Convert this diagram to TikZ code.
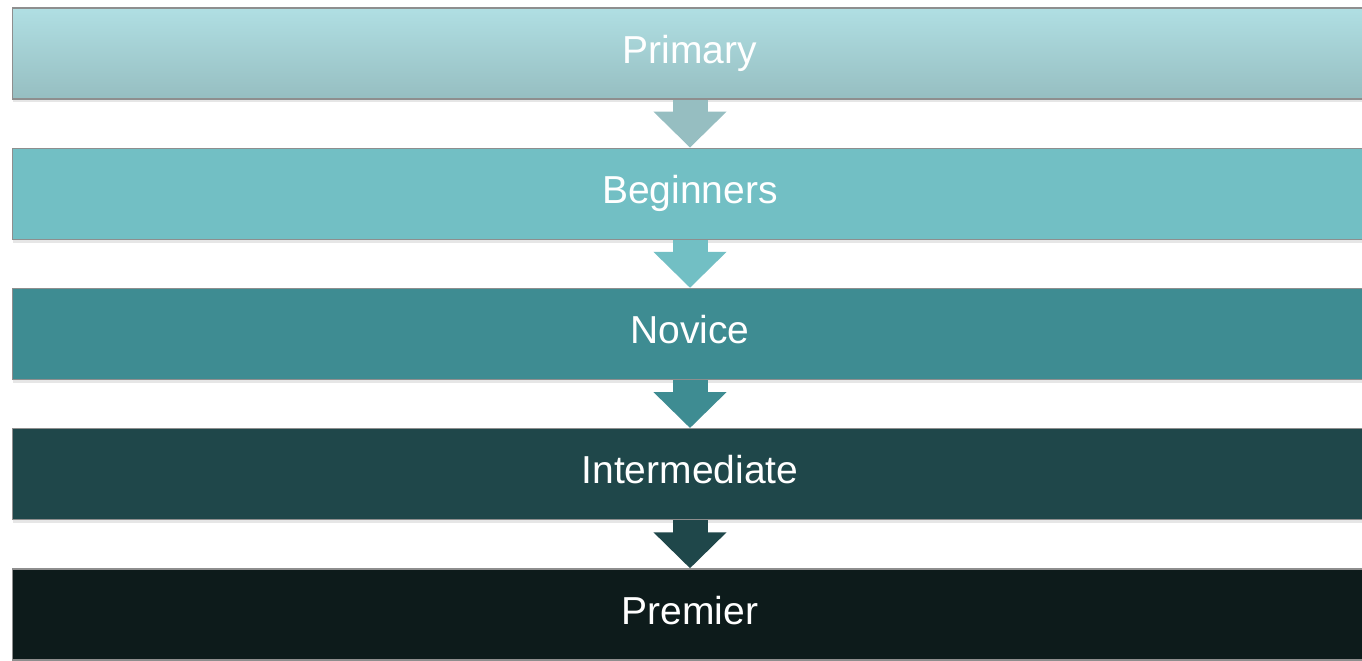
\documentclass[tikz,border=0pt]{standalone}
\usepackage{fontspec}
\setmainfont{Liberation Sans}
\usetikzlibrary{arrows.meta,shadows,positioning}
\definecolor{primtop}{HTML}{B0DFE3}
\definecolor{primbot}{HTML}{96BEC1}
\definecolor{begin}{HTML}{72BFC4}
\definecolor{novice}{HTML}{3E8C92}
\definecolor{inter}{HTML}{1F474A}
\definecolor{premier}{HTML}{0D1B1B}
\definecolor{edge}{HTML}{8E8E8E}
\begin{document}
\begin{tikzpicture}[x=0.02cm,y=-0.02cm,
    level/.style={draw=edge, line width=0.025cm, minimum width=27.12cm, minimum height=1.82cm,
      text=white, font=\fontsize{22.2}{26}\selectfont, text height=0.56cm, text depth=0.17cm,
      drop shadow={opacity=0.2, shadow xshift=0.02cm, shadow yshift=-0.07cm}},
    down/.style={line width=0.7cm, -{Triangle[width=1.42cm,length=0.72cm]}},
    node distance=0.96cm]
    \useasboundingbox (0,0) rectangle (1362,660);
    \clip (0,0) rectangle (1362,660);
            \node [level, top color=primtop, bottom color=primbot](p) at (690,53.5) {Primary};
            \node [level, fill=begin, below=of p](b) {Beginners};
            \node [level, fill=novice, below=of b](n) {Novice};
            \node [level, fill=inter, below=of n](i) {Intermediate};
            \node [level, fill=premier, below=of i](r) {Premier};
            \draw [down, primbot](p.south)to(b.north);
            \draw [down, begin](b.south)to(n.north);
            \draw [down, novice](n.south)to(i.north);
            \draw [down, inter](i.south)to(r.north);
        \end{tikzpicture}
\end{document}
